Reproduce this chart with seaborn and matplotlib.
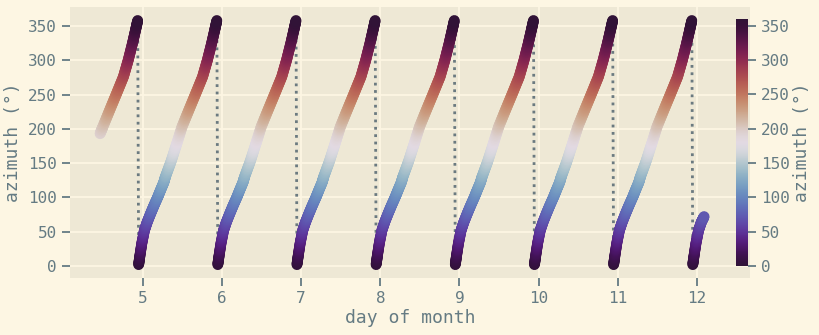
import numpy as np
import pandas as pd
import matplotlib
matplotlib.use("Agg")
import matplotlib.pyplot as plt
from matplotlib.collections import LineCollection
from matplotlib.colors import Normalize
import matplotlib.cm as cm
import seaborn as sns

# ---- data ----
# first partial day (day 4 afternoon/evening), fractional day and azimuth
first_frac = [0.46, 0.495, 0.58, 0.67, 0.755, 0.815, 0.87, 0.908, 0.935]
first_az = [193, 203, 227, 252, 276, 300, 325, 344, 358]
# a full daily cycle, fraction of day relative to day start, azimuth in degrees
cycle_frac = [-0.053, -0.037, -0.013, 0.02, 0.055, 0.10, 0.14, 0.19, 0.225, 0.265,
              0.285, 0.355, 0.43, 0.495, 0.58, 0.67, 0.755, 0.815, 0.87, 0.908, 0.935]
cycle_az = [2, 15, 33, 52, 64, 77, 88, 101, 111, 122,
            130, 152, 179, 203, 227, 252, 276, 300, 325, 344, 358]
full_days = [5, 6, 7, 8, 9, 10, 11]
# last partial day (day 12 early)
last_frac = [-0.053, -0.037, -0.013, 0.02, 0.055, 0.09]
last_az = [2, 15, 33, 52, 64, 72]

xticks = [5, 6, 7, 8, 9, 10, 11, 12]
yticks = [0, 50, 100, 150, 200, 250, 300, 350]

t = [4 + f for f in first_frac]
az = list(first_az)
for d in full_days:
    t += [d + f for f in cycle_frac]
    az += list(cycle_az)
t += [12 + f for f in last_frac]
az += list(last_az)
df = pd.DataFrame({"day": t, "azimuth": az})

# ---- style ----
plt.style.use("Solarize_Light2")
plt.rcParams["font.family"] = ["DejaVu Sans Mono"]
txt = "#657b83"

W, H = 820, 335
fig = plt.figure(figsize=(W / 100, H / 100), dpi=100)
ax = fig.add_axes([70 / W, 1 - 278 / H, (750 - 70) / W, (278 - 7) / H])

cmap = plt.get_cmap("twilight_shifted")
norm = Normalize(0, 360)

# dotted connecting line (visible at the wraps)
sns.lineplot(data=df, x="day", y="azimuth", sort=False, estimator=None, ax=ax,
             color="#6b7a80", lw=2, ls=":", zorder=2)

# thick path between the read points, coloured by azimuth along each straight piece
x = df["day"].to_numpy()
y = df["azimuth"].to_numpy()
segs, vals = [], []
steps = np.linspace(0, 1, 13)
for i in range(len(x) - 1):
    if y[i + 1] < y[i]:
        continue
    for a, b in zip(steps[:-1], steps[1:]):
        xa, ya = x[i] + a * (x[i + 1] - x[i]), y[i] + a * (y[i + 1] - y[i])
        xb, yb = x[i] + b * (x[i + 1] - x[i]), y[i] + b * (y[i + 1] - y[i])
        segs.append([(xa, ya), (xb, yb)])
        vals.append((ya + yb) / 2)
lc = LineCollection(segs, cmap=cmap, norm=norm, linewidths=7.8, capstyle="round", zorder=3)
lc.set_array(np.array(vals))
ax.add_collection(lc)

ax.set_xlim(4.08, 12.67)
ax.set_ylim(-17.5, 377.7)
ax.set_xticks(xticks)
ax.set_yticks(yticks)
ax.set_xlabel("day of month", fontsize=13, color=txt, labelpad=2)
ax.set_ylabel("azimuth (°)", fontsize=13, color=txt, labelpad=4)
ax.tick_params(axis="both", labelsize=11.5, colors=txt, length=6, width=1.3, direction="out")
ax.grid(True, color="#fdf6e3", lw=1.3)
for s in ax.spines.values():
    s.set_visible(False)

# colorbar aligned with data range 0..360
y0 = 1 - 266 / H
y1 = 1 - 19 / H
cax = fig.add_axes([736 / W, y0, 12 / W, y1 - y0])
sm = cm.ScalarMappable(norm=norm, cmap=cmap)
cb = fig.colorbar(sm, cax=cax)
cb.set_ticks(yticks)
cb.outline.set_visible(False)
cax.tick_params(labelsize=11.5, colors=txt, length=6, width=1.3)
cb.set_label("azimuth (°)", fontsize=13, color=txt, labelpad=2)

fig.savefig("out.png", dpi=100, facecolor=fig.get_facecolor())
